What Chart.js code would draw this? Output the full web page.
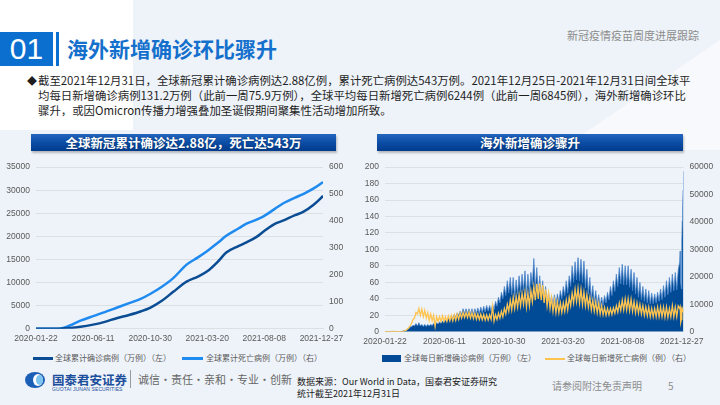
<!DOCTYPE html>
<html lang="zh-CN">
<head>
<meta charset="utf-8">
<title>海外新增确诊环比骤升</title>
<script src="https://cdn.jsdelivr.net/npm/chart.js@4.4.1/dist/chart.umd.min.js"></script>
<style>
  html, body { margin: 0; padding: 0; }
  body {
    width: 720px; height: 405px; overflow: hidden; position: relative;
    font-family: "Noto Sans CJK SC", "Noto Sans", sans-serif;
    background: #eef3f9;
  }
  .abs { position: absolute; white-space: nowrap; }
  #whiteTop { left: 0; top: 0; width: 133px; height: 130px; background: #fff; }
  #wedge { left: 560px; top: 40px; width: 160px; height: 110px; background: #f7f9fc;
           clip-path: polygon(100% 0, 100% 100%, 0 100%); }
  #numBox { left: 0; top: 32px; width: 53px; height: 34px; background: #0b6fd0; color: #fff;
            font: 30px/34px "Liberation Sans", sans-serif; text-align: center; }
  #vBar { left: 56px; top: 32px; width: 3px; height: 34px; background: #0b6fd0; }
  #title { left: 67px; top: 32px; height: 34px; line-height: 33px; font-size: 21px; font-weight: bold; color: #1470cc; }
  #subTitle { left: 567px; top: 27px; font-size: 11px; color: #8c8c8c; }
  #bodyText { left: 38px; top: 73px; font-size: 11.4px; line-height: 15px; color: #1e1e1e; }
  #bullet { left: 27px; top: 73px; font-size: 10px; line-height: 15px; color: #1e1e1e; }
  .bar { height: 17px; line-height: 17px; text-align: center; color: #fff; font-size: 12.5px; font-weight: bold;
         background: linear-gradient(180deg, #2466bf 0%, #0c4ea6 50%, #003b8c 100%);
         box-shadow: 1px 2px 2px rgba(0,0,0,0.25); text-shadow: 0 0 2px rgba(0,0,0,0.4); }
  #bar1 { left: 31px; top: 134px; width: 305px; }
  #bar2 { left: 377px; top: 134px; width: 306px; }
  .box { position: absolute; }
  #box1 { left: 0; top: 156px; width: 352px; height: 193px; }
  #box2 { left: 350px; top: 156px; width: 370px; height: 196px; }
  .lg { position: absolute; font-size: 8px; line-height: 10px; color: #595959; white-space: nowrap; }
  .sw { position: absolute; }
  #logoIcon { left: 25px; top: 372px; width: 20px; height: 16px; border-radius: 50%; background: #1c5fb6; overflow: hidden; }
  #logoIcon i { position: absolute; left: 8px; top: 2px; width: 10px; height: 12px; border-radius: 50%; background: #fff; }
  #logoIcon b { position: absolute; left: 11px; top: 3px; width: 7px; height: 10px; border-radius: 50%; background: #7fc4ef; }
  #logoName { left: 52px; top: 370px; font-size: 12.5px; font-weight: bold; color: #1d4f9c; }
  #logoEn { left: 52px; top: 386px; font: 5px "Liberation Sans", sans-serif; color: #1d4f9c; letter-spacing: 0.1px; }
  #sep { left: 130px; top: 370px; width: 1px; height: 18px; background: #9a9a9a; }
  #motto { left: 138px; top: 371px; font-size: 11px; color: #666; }
  #source { left: 297px; top: 376px; font-size: 9px; line-height: 12px; color: #222; }
  #note { left: 552px; top: 378px; font-size: 10px; color: #8c8c8c; }
  #page { left: 668px; top: 378px; font-size: 10px; color: #8c8c8c; }
</style>
</head>
<body>
<div class="abs" id="whiteTop"></div>
<div class="abs" id="wedge"></div>
<div class="abs" id="numBox">01</div>
<div class="abs" id="vBar"></div>
<div class="abs" id="title">海外新增确诊环比骤升</div>
<div class="abs" id="subTitle">新冠疫情疫苗周度进展跟踪</div>
<div class="abs" id="bullet">◆</div>
<div class="abs" id="bodyText">截至2021年12月31日，全球新冠累计确诊病例达2.88亿例，累计死亡病例达543万例。2021年12月25日-2021年12月31日间全球平<br>均每日新增确诊病例131.2万例（此前一周75.9万例），全球平均每日新增死亡病例6244例（此前一周6845例），海外新增确诊环比<br>骤升，或因Omicron传播力增强叠加圣诞假期间聚集性活动增加所致。</div>
<div class="abs bar" id="bar1">全球新冠累计确诊达2.88亿，死亡达543万</div>
<div class="abs bar" id="bar2">海外新增确诊骤升</div>
<div class="box" id="box1"><canvas id="cumChart"></canvas></div>
<div class="box" id="box2"><canvas id="dailyChart"></canvas></div>

<!-- legends -->
<div class="sw" style="left:33px;top:357px;width:20px;height:2.5px;background:#0b4d94"></div>
<div class="lg" id="lg1" style="left:55px;top:353px"></div>
<div class="sw" style="left:182px;top:357px;width:21px;height:2.5px;background:#1f8bf0"></div>
<div class="lg" id="lg2" style="left:206px;top:353px"></div>
<div class="sw" style="left:382px;top:355px;width:19px;height:7px;background:#014b96"></div>
<div class="lg" id="lg3" style="left:404px;top:353px"></div>
<div class="sw" style="left:545px;top:358px;width:20px;height:1.5px;background:#ffc44f"></div>
<div class="lg" id="lg4" style="left:567px;top:353px"></div>

<div class="abs" id="logoIcon"><i></i><b></b></div>
<div class="abs" id="logoName">国泰君安证券</div>
<div class="abs" id="logoEn">GUOTAI JUNAN SECURITIES</div>
<div class="abs" id="sep"></div>
<div class="abs" id="motto">诚信·责任·亲和·专业·创新</div>
<div class="abs" id="source">数据来源：Our World in Data，国泰君安证券研究<br>统计截至2021年12月31日</div>
<div class="abs" id="note">请参阅附注免责声明</div>
<div class="abs" id="page">5</div>

<script>
// x axis: day number counted from 2020-01-22
const tickDates = ['2020-01-22', '2020-06-11', '2020-10-30', '2021-03-20', '2021-08-08', '2021-12-27'];
const tickDays = [0, 141, 282, 423, 564, 705];

const seriesNames = ['全球累计确诊病例（万例）（左）', '全球累计死亡病例（万例）（右）',
                     '全球每日新增确诊病例（万例）（左）', '全球每日新增死亡病例（例）（右）'];

// cumulative totals (万例), read at these days
const cumDays = [0, 30, 45, 60, 75, 90, 110, 141, 170, 199, 230, 260, 283, 310, 339, 372, 400, 424, 450, 470, 500, 520, 545, 563, 590, 610, 640, 660, 685, 705, 709];
const cumCases = [0.06, 8, 11, 30, 130, 230, 420, 900, 1500, 2300, 3000, 3800, 4600, 6000, 8000, 10200, 11300, 12500, 14600, 16500, 17900, 18700, 19900, 21100, 22700, 23400, 24600, 25300, 26800, 28400, 28800];
const cumDeaths = [0, 0.2, 0.3, 1.5, 7, 16, 30, 47, 62, 78, 95, 112, 130, 155, 188, 238, 265, 290, 320, 345, 372, 390, 405, 418, 445, 465, 487, 500, 520, 540, 545];

// daily values, one weekly low and one weekly high, weeks 0-99 (week 0 starts 2020-01-22)
const caseHigh = [
  0.3, 0.4, 0.5, 0.3, 0.3, 0.6, 1.5, 3, 6, 8,
  10, 11, 9, 9, 9, 9, 10, 11, 12, 13,
  14, 17, 19, 21, 23, 25, 28, 28, 28, 28,
  28, 29, 30, 31, 32, 32, 33, 37, 42, 48,
  55, 62, 66, 66, 63, 68, 70, 74, 70, 72,
  89, 78, 68, 62, 55, 48, 44, 45, 46, 50,
  55, 62, 68, 80, 85, 90, 88, 86, 76, 66,
  56, 50, 45, 42, 44, 48, 55, 62, 70, 78,
  82, 80, 80, 76, 72, 66, 60, 55, 52, 50,
  47, 46, 48, 52, 56, 62, 66, 70, 72, 75
];
const caseLow = [
  0.1, 0.2, 0.2, 0.1, 0.1, 0.2, 0.6, 1.5, 3.5, 6,
  7, 7, 7, 6.5, 6.5, 7, 7.5, 8.5, 9.5, 10.5,
  11.5, 13, 15, 17, 18, 20, 21, 22, 22, 21,
  21, 22, 22, 23, 24, 25, 25, 27, 31, 35,
  40, 44, 47, 45, 42, 46, 48, 50, 44, 46,
  57, 52, 46, 42, 38, 33, 31, 32, 33, 36,
  40, 44, 47, 55, 60, 63, 62, 60, 53, 46,
  39, 35, 33, 31, 32, 35, 39, 44, 49, 55,
  58, 57, 57, 54, 50, 46, 42, 39, 37, 35,
  34, 34, 35, 37, 39, 42, 45, 48, 50, 51
];
const deathHigh = [
  30, 60, 100, 100, 80, 100, 300, 900, 2200, 4500,
  7000, 8500, 8300, 7800, 7000, 6500, 6000, 5500, 5500, 5800,
  5500, 5800, 6000, 6200, 6500, 6800, 7000, 7000, 7200, 7000,
  6800, 6500, 6400, 6300, 6200, 6200, 9300, 6200, 6800, 7500,
  8500, 10000, 11500, 12500, 12800, 13500, 14000, 14500, 14000, 15000,
  16500, 17500, 17700, 17000, 15500, 14000, 12500, 11500, 11000, 10500,
  10500, 11500, 12500, 14000, 15500, 15800, 15500, 14500, 13500, 12500,
  11500, 11000, 10500, 9500, 8800, 8500, 8500, 8700, 9500, 10500,
  11500, 12000, 12000, 11800, 11000, 10500, 10000, 9500, 9000, 9000,
  8500, 8500, 9000, 9000, 9000, 9000, 8500, 9500, 9000, 9500
];
const deathLow = [
  10, 30, 50, 40, 40, 60, 150, 400, 1400, 3000,
  5000, 6500, 6000, 5500, 5000, 4200, 4000, 2000, 3800, 3800,
  3800, 3800, 4000, 4000, 4200, 4500, 5000, 5200, 5200, 5000,
  4800, 4600, 4500, 4400, 4300, 4300, 4500, 3900, 4500, 5000,
  5500, 6500, 7500, 8000, 8500, 9000, 9500, 10000, 9000, 9500,
  11000, 11500, 12000, 11500, 10500, 9500, 8500, 7500, 7000, 7000,
  7000, 7500, 8000, 9500, 10500, 11000, 10500, 10000, 9500, 9000,
  8000, 7500, 7000, 6500, 6200, 6000, 6200, 6300, 6800, 7200,
  7800, 8000, 8000, 7800, 7500, 7000, 6800, 6500, 6000, 5800,
  5500, 5500, 5500, 5500, 5500, 5300, 5300, 5500, 5500, 5500
];
// last ten days, 2021-12-22 .. 2021-12-31
const caseTail = [85, 98, 90, 60, 52, 110, 135, 150, 172, 195];
const deathTail = [8500, 9000, 7500, 3500, 4500, 7000, 8500, 8000, 7500, 7800];

const FONT = "'Liberation Sans', 'Noto Sans CJK SC', sans-serif";
const GRID = '#dcdfe4';
const TICK = '#595959';

['lg1', 'lg2', 'lg3', 'lg4'].forEach((id, i) => { document.getElementById(id).textContent = seriesNames[i]; });

function weekly(low, high, tail) {
  const pts = [];
  low.forEach((v, w) => {
    pts.push({ x: w * 7, y: v });
    pts.push({ x: w * 7 + 3.5, y: high[w] });
  });
  tail.forEach((v, i) => pts.push({ x: 700 + i, y: v }));
  return pts;
}

function pairs(days, vals) {
  return days.map((d, i) => ({ x: d, y: vals[i] }));
}

function dateAxis() {
  return {
    type: 'linear', min: 0, max: 709,
    afterBuildTicks: s => { s.ticks = tickDays.map(v => ({ value: v })); },
    ticks: {
      autoSkip: false, maxRotation: 0, padding: 5, color: TICK,
      font: { family: FONT, size: 8.5 },
      callback: v => tickDates[tickDays.indexOf(v)]
    },
    grid: { display: false, drawTicks: false, tickLength: 0 },
    border: { color: GRID }
  };
}

function valueAxis(pos, max, step, width) {
  return {
    position: pos, min: 0, max: max,
    ticks: { stepSize: step, padding: 6, color: TICK, font: { family: FONT, size: 8.5 }, callback: v => String(v) },
    grid: { display: pos === 'left', color: GRID, drawTicks: false },
    border: { display: false },
    afterFit: s => { s.width = width; }
  };
}

new Chart(document.getElementById('cumChart'), {
  type: 'line',
  data: {
    datasets: [{
      label: seriesNames[0],
      data: pairs(cumDays, cumCases),
      borderColor: '#0b4d94', borderWidth: 2.5,
      pointRadius: 0, cubicInterpolationMode: 'monotone', yAxisID: 'y'
    }, {
      label: seriesNames[1],
      data: pairs(cumDays, cumDeaths),
      borderColor: '#1f8bf0', borderWidth: 2.5,
      pointRadius: 0, cubicInterpolationMode: 'monotone', yAxisID: 'y1'
    }]
  },
  options: {
    responsive: true, maintainAspectRatio: false, animation: false,
    layout: { padding: { top: 8, bottom: 0 } },
    scales: {
      x: dateAxis(),
      y: valueAxis('left', 35000, 5000, 36),
      y1: valueAxis('right', 600, 100, 29)
    },
    plugins: { legend: { display: false }, tooltip: { enabled: false } }
  }
});

new Chart(document.getElementById('dailyChart'), {
  type: 'line',
  data: {
    datasets: [{
      label: seriesNames[2],
      data: weekly(caseLow, caseHigh, caseTail),
      borderColor: '#4d86cc', backgroundColor: '#014b96', borderWidth: 0.8,
      fill: 'origin', pointRadius: 0, tension: 0, order: 1, yAxisID: 'y'
    }, {
      label: seriesNames[3],
      data: weekly(deathLow, deathHigh, deathTail),
      borderColor: '#ffc44f', borderWidth: 1.3,
      pointRadius: 0, tension: 0, order: 0, yAxisID: 'y1'
    }]
  },
  options: {
    responsive: true, maintainAspectRatio: false, animation: false,
    layout: { padding: { top: 7, bottom: 0 } },
    scales: {
      x: dateAxis(),
      y: valueAxis('left', 200, 20, 35),
      y1: valueAxis('right', 60000, 10000, 36.5)
    },
    plugins: { legend: { display: false }, tooltip: { enabled: false } }
  }
});
</script>
</body>
</html>
